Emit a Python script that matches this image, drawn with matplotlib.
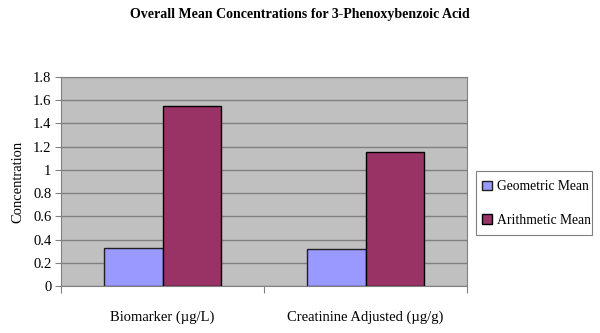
"""
Overall mean concentrations for 3-Phenoxybenzoic acid
"""

import matplotlib.pyplot as plt
from matplotlib.patches import Rectangle
import numpy as np


categories = ["Biomarker (\u00b5g/L)", "Creatinine Adjusted (\u00b5g/g)"]
series_names = ["Geometric Mean", "Arithmetic Mean"]
geometric_mean = [0.33, 0.32]
arithmetic_mean = [1.55, 1.15]
y_ticks = [0, 0.2, 0.4, 0.6, 0.8, 1, 1.2, 1.4, 1.6, 1.8]


plt.rcParams["font.family"] = ["Liberation Serif", "DejaVu Serif"]

W, H = 600, 333

fig = plt.figure(figsize=(6, 3.33), dpi=100)
ax = fig.add_axes([61 / W, 1 - 286 / H, 406 / W, 209 / H])

x = np.arange(len(categories)) + 0.5
width = 0.29

ax.set_facecolor("#C0C0C0")
ax.set_axisbelow(True)
ax.grid(axis="y", color="#808080", linewidth=1)

b1 = ax.bar(x - width / 2, geometric_mean, width,
            color="#9999FF", edgecolor="#202020", linewidth=1,
            label=series_names[0])
b2 = ax.bar(x + width / 2, arithmetic_mean, width,
            color="#993366", edgecolor="black", linewidth=1,
            label=series_names[1])

ax.set_xlim(0, 2)
ax.set_ylim(0, 1.8)
ax.set_yticks(y_ticks)
ax.set_yticklabels([f"{t:g}" for t in y_ticks], fontsize=10.5)

ax.set_xticks([0, 1, 2])
ax.set_xticklabels([])
ax.set_xticks(x, minor=True)
ax.set_xticklabels(categories, minor=True, fontsize=10.5)
ax.tick_params(axis="x", which="minor", length=0, pad=18)
ax.tick_params(axis="x", which="major", length=5, color="#808080")
ax.tick_params(axis="y", length=4, color="#808080", pad=3)

for side in ["top", "right", "bottom", "left"]:
    ax.spines[side].set_color("#808080")

ax.set_ylabel("Concentration", fontsize=10.5, labelpad=6)

fig.suptitle("Overall Mean Concentrations for 3-Phenoxybenzoic Acid",
             fontsize=10, fontweight="bold", x=0.5, y=0.975)

# legend box drawn separately so padding matches the original
fig.patches.append(Rectangle(
    (476 / W, 1 - 235 / H), 116 / W, 64 / H,
    transform=fig.transFigure, facecolor="white",
    edgecolor="#808080", linewidth=0.8, zorder=0,
))

leg = fig.legend(
    handles=[b1, b2],
    loc="center left",
    bbox_to_anchor=(482 / W, 1 - 203.5 / H),
    fontsize=9.8,
    frameon=False,
    handlelength=0.7,
    handleheight=0.7,
    handletextpad=0.4,
    labelspacing=1.5,
    borderpad=0,
    borderaxespad=0,
)

fig.savefig("out.png", dpi=100)
plt.close(fig)
